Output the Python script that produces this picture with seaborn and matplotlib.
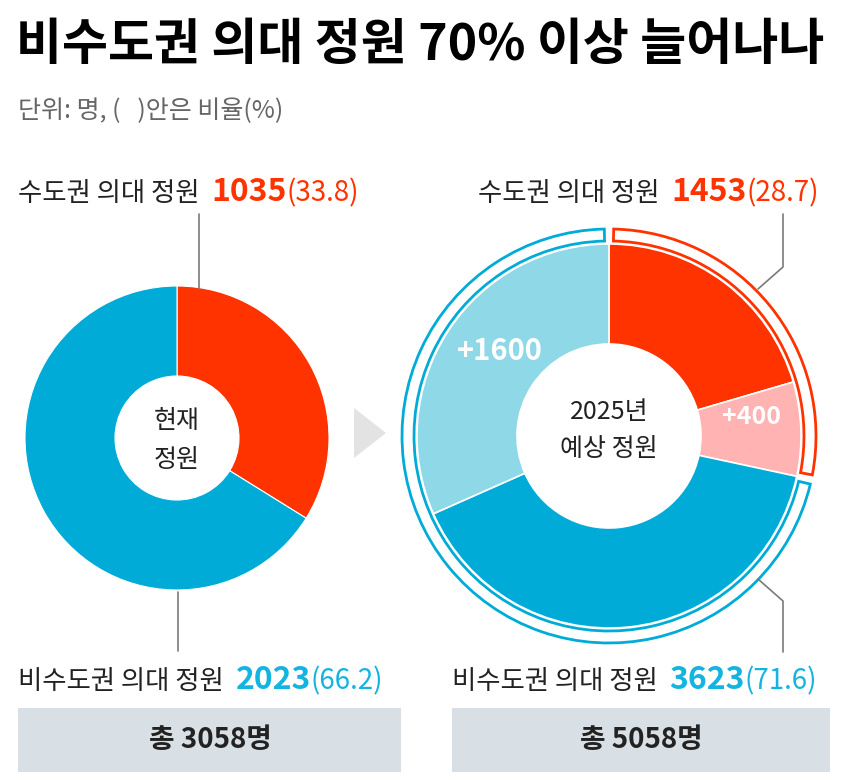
import matplotlib
matplotlib.use("Agg")
import matplotlib.pyplot as plt
import seaborn as sns
from matplotlib.patches import Wedge, Rectangle, Polygon

# ---- 데이터 ----
title = "비수도권 의대 정원 70% 이상 늘어나나"
subtitle = "단위: 명, (   )안은 비율(%)"
label_name = ["수도권 의대 정원  ", "비수도권 의대 정원  "]

now_values = [1035, 2023]            # 수도권, 비수도권
now_counts = ["1035", "2023"]
now_ratio = ["(33.8)", "(66.2)"]
now_total = "총 3058명"

future_values = [1035, 400, 2023, 1600]   # 수도권 기존, 수도권 증원, 비수도권 기존, 비수도권 증원
future_counts = ["1453", "3623"]
future_ratio = ["(28.7)", "(71.6)"]
future_increase = ["+400", "+1600"]
future_total = "총 5058명"

# ---- 스타일 ----
sns.set_theme(style="white")
plt.rcParams["font.family"] = ["Noto Sans CJK KR", "DejaVu Sans"]

RED = "#ff3300"
PINK = "#ffb3b3"
BLUE = "#00acd7"
LBLUE = "#8fd8e7"
TXT_BLUE = "#14b4e0"
GRAY_LINE = "#7a7a7a"
BOX = "#d9e0e5"

W, H = 845, 782
fig = plt.figure(figsize=(W / 100, H / 100), dpi=100)
ax = fig.add_axes([0, 0, 1, 1])


def Y(py):
    return H - py


def rich(x, y, parts):
    """여러 스타일의 텍스트를 한 줄로 이어 붙임"""
    rend = fig.canvas.get_renderer()
    for s, color, size, weight in parts:
        t = ax.text(x, Y(y), s, color=color, fontsize=size, fontweight=weight,
                    ha="left", va="baseline")
        x += t.get_window_extent(renderer=rend).width


# ---- 현재 정원 도넛 ----
lc = (177, Y(438))
ax.pie(now_values, colors=[RED, BLUE], startangle=90, counterclock=False,
       center=lc, radius=152,
       wedgeprops=dict(width=90, edgecolor="white", linewidth=0.8))
ax.text(lc[0], Y(421), "현재", ha="center", va="center", fontsize=18, color="#222222")
ax.text(lc[0], Y(460), "정원", ha="center", va="center", fontsize=18, color="#222222")

# ---- 2025년 예상 정원 도넛 ----
rc = (609, Y(436))
ax.pie(future_values, colors=[RED, PINK, BLUE, LBLUE], startangle=90, counterclock=False,
       center=rc, radius=192,
       wedgeprops=dict(width=100, edgecolor="white", linewidth=1.2))
ax.text(rc[0], Y(412), "2025년", ha="center", va="center", fontsize=18, color="#222222")
ax.text(rc[0], Y(449), "예상 정원", ha="center", va="center", fontsize=18, color="#222222")

# 수도권 / 비수도권 묶음 테두리
total_future = sum(future_values)
split = 90 - 360 * (future_values[0] + future_values[1]) / total_future
gap = 1.3
ax.add_patch(Wedge(rc, 207, split + gap, 90 - gap, width=12,
                   fill=False, edgecolor=RED, linewidth=2))
ax.add_patch(Wedge(rc, 207, -270 + gap, split - gap, width=12,
                   fill=False, edgecolor=BLUE, linewidth=2))

ax.text(500, Y(351), future_increase[1], ha="center", va="center",
        fontsize=21, fontweight="bold", color="white")
ax.text(752, Y(417), future_increase[0], ha="center", va="center",
        fontsize=18, fontweight="bold", color="white")

# 화살표 삼각형
ax.add_patch(Polygon([(354, Y(408)), (354, Y(458)), (386, Y(433))],
                     closed=True, facecolor="#e3e3e3", edgecolor="none"))

# ---- 지시선 ----
ax.plot([199, 199], [Y(214), Y(289)], color=GRAY_LINE, lw=1.2)
ax.plot([178, 178], [Y(592), Y(651)], color=GRAY_LINE, lw=1.2)
ax.plot([783, 783, 758], [Y(214), Y(267), Y(289)], color=GRAY_LINE, lw=1.2)
ax.plot([758, 783, 783], [Y(579), Y(601), Y(652)], color=GRAY_LINE, lw=1.2)

# ---- 제목 ----
ax.text(16, Y(60), title, fontsize=36, fontweight="bold", color="#000000",
        ha="left", va="baseline")
ax.text(18, Y(118), subtitle, fontsize=18, color="#666666", ha="left", va="baseline")

# ---- 라벨 ----
rich(18, 201, [(label_name[0], "#222222", 19, "normal"),
               (now_counts[0], RED, 23, "bold"),
               (now_ratio[0], RED, 20, "normal")])
rich(478, 201, [(label_name[0], "#222222", 19, "normal"),
                (future_counts[0], RED, 23, "bold"),
                (future_ratio[0], RED, 20, "normal")])
rich(18, 689, [(label_name[1], "#222222", 19, "normal"),
               (now_counts[1], TXT_BLUE, 23, "bold"),
               (now_ratio[1], TXT_BLUE, 20, "normal")])
rich(452, 689, [(label_name[1], "#222222", 19, "normal"),
                (future_counts[1], TXT_BLUE, 23, "bold"),
                (future_ratio[1], TXT_BLUE, 20, "normal")])

# ---- 합계 박스 ----
ax.add_patch(Rectangle((18, Y(772)), 383, 64, facecolor=BOX, edgecolor="none"))
ax.add_patch(Rectangle((452, Y(772)), 378, 64, facecolor=BOX, edgecolor="none"))
ax.text(210, Y(740), now_total, ha="center", va="center", fontsize=20,
        fontweight="bold", color="#222222")
ax.text(641, Y(740), future_total, ha="center", va="center", fontsize=20,
        fontweight="bold", color="#222222")

ax.set_xlim(0, W)
ax.set_ylim(0, H)
ax.set_aspect("equal")
ax.axis("off")

fig.savefig("out.png", dpi=100, facecolor="white")
